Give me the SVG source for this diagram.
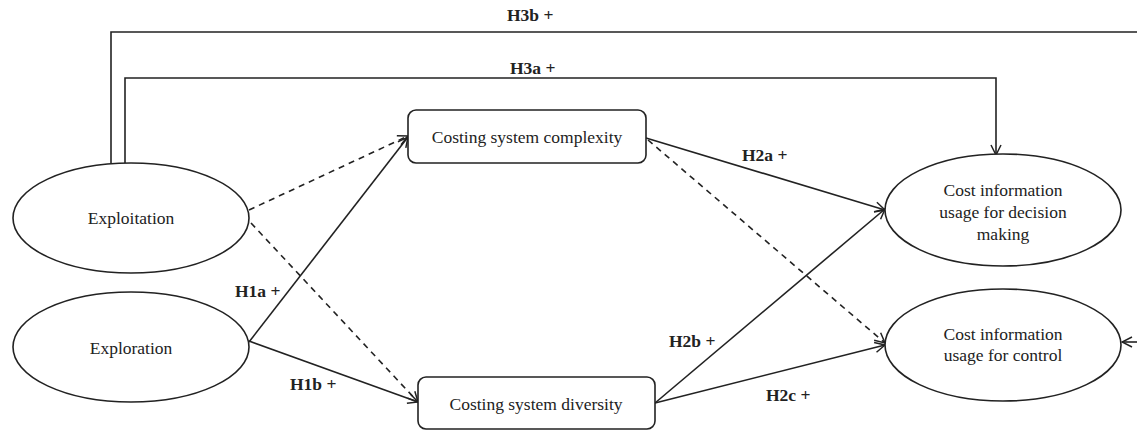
<svg xmlns="http://www.w3.org/2000/svg" width="1137" height="430" viewBox="0 0 1137 430">
<style>
.n{fill:#fff;stroke:#222;stroke-width:1.6}
.t{font-family:"Liberation Serif","Times New Roman",serif;font-size:17.5px;fill:#222;text-anchor:middle}
.l{font-family:"Liberation Serif","Times New Roman",serif;font-size:17.5px;font-weight:bold;fill:#222}
.c{fill:none;stroke:#222;stroke-width:1.6}
.d{stroke-dasharray:6,5}
</style>
<defs>
<marker id="a" viewBox="0 0 12 12" refX="11" refY="6" markerWidth="12" markerHeight="12" markerUnits="userSpaceOnUse" orient="auto">
<path d="M1,1 L11,6 L1,11" fill="none" stroke="#222" stroke-width="1.5"/>
</marker>
</defs>
<g id="connectors">
<path class="c" d="M111,163 V32 H1137"/>
<path class="c" d="M125,163 V78 H996 V155" marker-end="url(#a)"/>
<path class="c" d="M1137,342 H1122" marker-end="url(#a)"/>
<path class="c d" d="M249,210 L408,136" marker-end="url(#a)"/>
<path class="c d" d="M251,223 L418,402" marker-end="url(#a)"/>
<path class="c" d="M249,342 L408,137" marker-end="url(#a)"/>
<path class="c" d="M249,341 L418,402" marker-end="url(#a)"/>
<path class="c" d="M646,138 L885,210" marker-end="url(#a)"/>
<path class="c d" d="M648,140 L885,343" marker-end="url(#a)"/>
<path class="c" d="M655,403 L885,209" marker-end="url(#a)"/>
<path class="c" d="M655,403 L885,345" marker-end="url(#a)"/>
<text class="l" x="507" y="21">H3b +</text>
<text class="l" x="510" y="74">H3a +</text>
<text class="l" x="742" y="161">H2a +</text>
<text class="l" x="235" y="297">H1a +</text>
<text class="l" x="290" y="390">H1b +</text>
<text class="l" x="669" y="347">H2b +</text>
<text class="l" x="766" y="401">H2c +</text>
</g>
<g id="exploitation">
<ellipse class="n" cx="131" cy="218" rx="118" ry="55"/>
<text class="t" x="131" y="224">Exploitation</text>
</g>
<g id="exploration">
<ellipse class="n" cx="131" cy="347" rx="118" ry="55"/>
<text class="t" x="131" y="354">Exploration</text>
</g>
<g id="complexity">
<rect class="n" x="408" y="110" width="238" height="53" rx="8"/>
<text class="t" x="527" y="143">Costing system complexity</text>
</g>
<g id="diversity">
<rect class="n" x="418" y="377" width="237" height="52" rx="8"/>
<text class="t" x="536" y="410">Costing system diversity</text>
</g>
<g id="decision">
<ellipse class="n" cx="1003" cy="210" rx="118" ry="56"/>
<text class="t" x="1003" y="196">Cost information</text>
<text class="t" x="1003" y="218">usage for decision</text>
<text class="t" x="1003" y="240">making</text>
</g>
<g id="control">
<ellipse class="n" cx="1003" cy="345" rx="118" ry="56"/>
<text class="t" x="1003" y="340">Cost information</text>
<text class="t" x="1003" y="361">usage for control</text>
</g>
</svg>
